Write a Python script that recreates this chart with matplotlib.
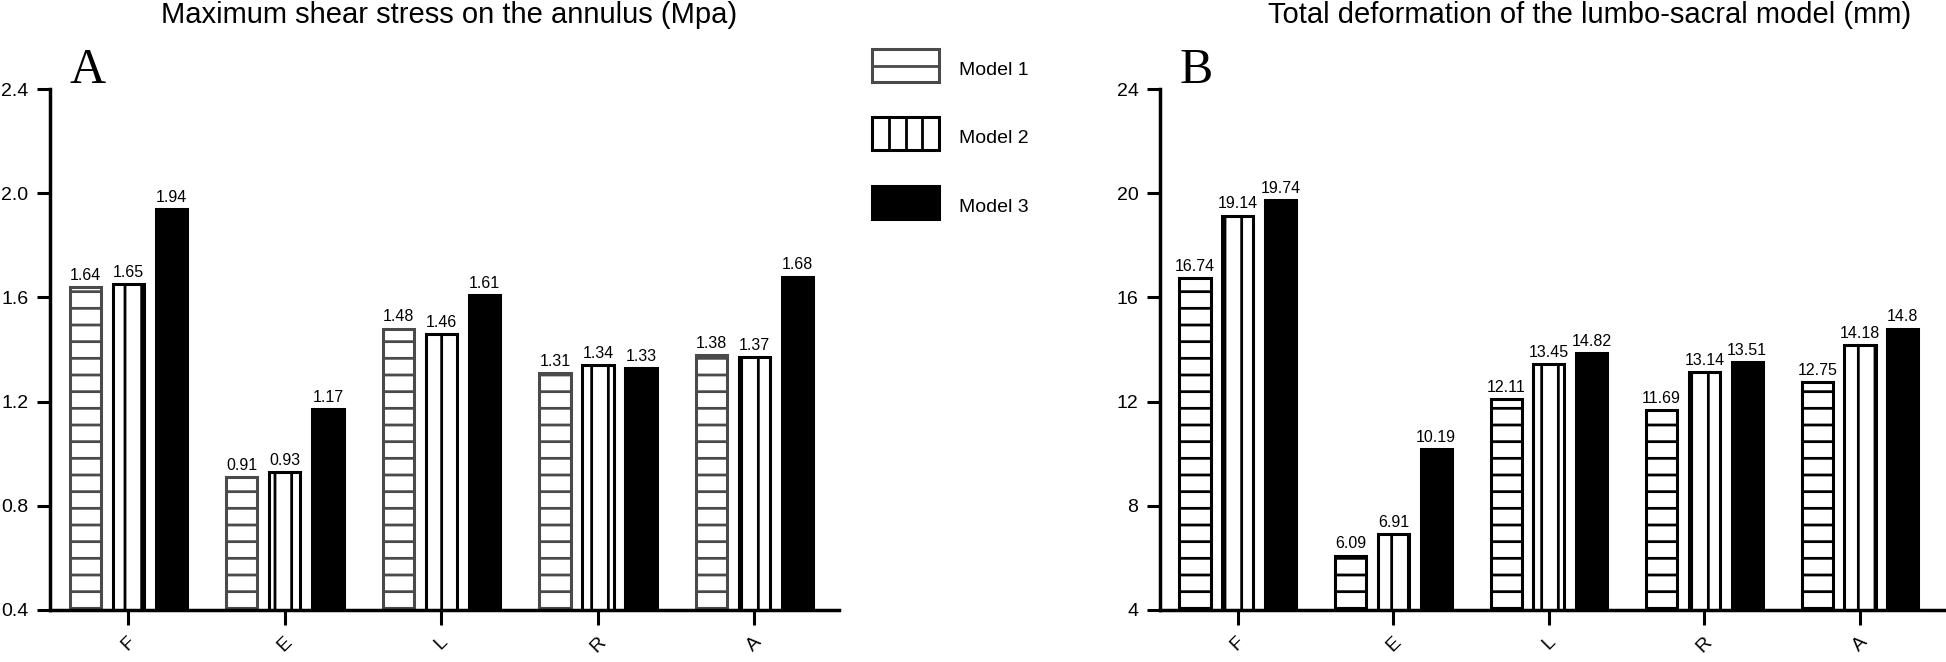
import matplotlib
matplotlib.use("Agg")
import matplotlib.pyplot as plt
import numpy as np
from matplotlib.patches import Rectangle
from matplotlib.lines import Line2D

plt.rcParams['font.family'] = ['Liberation Sans', 'DejaVu Sans']
plt.rcParams['hatch.linewidth'] = 2.0

# data
conditions = ['F', 'E', 'L', 'R', 'A']
models = ['Model 1', 'Model 2', 'Model 3']

shear_m1 = [1.64, 0.91, 1.48, 1.31, 1.38]
shear_m2 = [1.65, 0.93, 1.46, 1.34, 1.37]
shear_m3 = [1.94, 1.17, 1.61, 1.33, 1.68]

deform_m1 = [16.74, 6.09, 12.11, 11.69, 12.75]
deform_m2 = [19.14, 6.91, 13.45, 13.14, 14.18]
deform_m3 = [19.74, 10.19, 14.82, 13.51, 14.8]
# the L bar of model 3 is drawn shorter than its label in the source
deform_m3_bar = [19.74, 10.19, 13.86, 13.51, 14.8]

shear_ticks = [0.4, 0.8, 1.2, 1.6, 2.0, 2.4]
deform_ticks = [4, 8, 12, 16, 20, 24]

GRAY = '#4a4a4a'


def make_styles(m1_edge):
    return [
        dict(facecolor='white', edgecolor=m1_edge, hatch='-'),
        dict(facecolor='white', edgecolor='black', hatch='|'),
        dict(facecolor='black', edgecolor='black', hatch=None),
    ]


W, H = 1946, 662
fig = plt.figure(figsize=(W / 100, H / 100), dpi=100)


def draw_panel(ax, series, bars, ticks, ylabels_fmt, styles):
    x = np.arange(len(conditions))
    offsets = [-0.275, 0, 0.275]
    for vals, heights, off, st in zip(series, bars, offsets, styles):
        rects = ax.bar(x + off, heights, width=0.2, linewidth=2.2, zorder=2, **st)
        for r, v in zip(rects, vals):
            ax.annotate(str(v), (r.get_x() + r.get_width() / 2, r.get_height()),
                        xytext=(0, 3), textcoords='offset points',
                        ha='center', va='bottom', fontsize=11.5)
    ax.set_xlim(-0.5, 4.54)
    ax.set_ylim(ticks[0], ticks[-1])
    ax.set_yticks(ticks)
    ax.set_yticklabels([ylabels_fmt(t) for t in ticks], fontsize=14)
    ax.set_xticks(x)
    ax.set_xticklabels(conditions, rotation=45, fontsize=14)
    for s in ['top', 'right']:
        ax.spines[s].set_visible(False)
    for s in ['left', 'bottom']:
        ax.spines[s].set_linewidth(2.5)
        ax.spines[s].set_zorder(3)
    ax.tick_params(axis='y', length=9.5, width=2.2, pad=6)
    ax.tick_params(axis='x', length=11, width=2.2, pad=6)


bottom = (H - 610) / H
height = (610 - 89) / H

left_styles = make_styles(GRAY)
right_styles = make_styles('black')

ax1 = fig.add_axes([50 / W, bottom, (839 - 50) / W, height])
draw_panel(ax1, [shear_m1, shear_m2, shear_m3], [shear_m1, shear_m2, shear_m3],
           shear_ticks, lambda t: f'{t:.1f}', left_styles)

ax2 = fig.add_axes([1160 / W, bottom, (1944 - 1160) / W, height])
draw_panel(ax2, [deform_m1, deform_m2, deform_m3], [deform_m1, deform_m2, deform_m3_bar],
           deform_ticks, lambda t: f'{t:d}', right_styles)

# titles and panel letters
fig.text(737 / W, 1 - 23 / H, 'Maximum shear stress on the annulus (Mpa)',
         ha='right', va='baseline', fontsize=21)
fig.text(1911 / W, 1 - 23 / H, 'Total deformation of the lumbo-sacral model (mm)',
         ha='right', va='baseline', fontsize=21)
fig.text(70 / W, 1 - 83 / H, 'A', family='Liberation Serif', fontsize=36, va='baseline')
fig.text(1180 / W, 1 - 83 / H, 'B', family='Liberation Serif', fontsize=36, va='baseline')

# legend drawn by hand
bx, bw, bh = 872, 67, 33
box_tops = [49, 117, 186]
for i, (top, st) in enumerate(zip(box_tops, left_styles)):
    y0 = 1 - (top + bh) / H
    fig.add_artist(Rectangle((bx / W, y0), bw / W, bh / H, transform=fig.transFigure,
                             facecolor=st['facecolor'], edgecolor=st['edgecolor'],
                             linewidth=2.2))
    if i == 0:
        ym = 1 - (top + bh / 2) / H
        fig.add_artist(Line2D([bx / W, (bx + bw) / W], [ym, ym], color=GRAY,
                              linewidth=2.0, transform=fig.transFigure))
    elif i == 1:
        for k in range(1, 4):
            xv = (bx + bw * k / 4) / W
            fig.add_artist(Line2D([xv, xv], [y0, y0 + bh / H], color='black',
                                  linewidth=2.0, transform=fig.transFigure))
    fig.text(959 / W, 1 - (top + bh / 2 + 5) / H, models[i], fontsize=14, va='center')

fig.savefig('out.png', dpi=100)
